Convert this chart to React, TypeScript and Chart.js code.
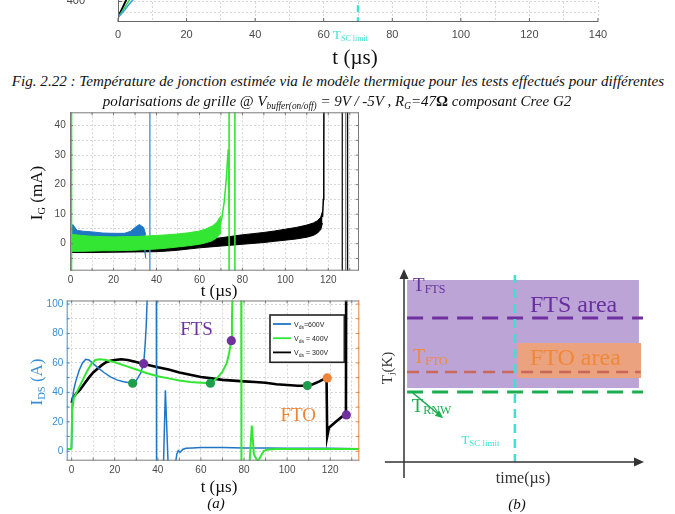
import React, { useEffect, useRef } from 'react';
import { Chart, registerables } from 'chart.js';

Chart.register(...registerables);

const SERIF = '"Liberation Serif", "Times New Roman", Times, serif';
const SANS = '"Liberation Sans", Arial, Helvetica, sans-serif';

const BLUE = '#1f77c4';
const LIME = '#33e633';
const BLACK = '#000000';
const PURPLE = '#7030a0';
const ORANGE = '#ef8436';
const MK_GREEN = '#1e9e4c';
const CYAN = '#3ee0d4';
const IDS_BLUE = '#3a8ed4';

// ---------- Fig. 2.22 (only its lower edge is visible) ----------
const stripTicksX = [0, 10, 20, 30, 40, 50, 60, 70, 80, 90, 100, 110, 120, 130, 140];
const stripTicksY = [350, 400, 450, 500, 550, 600, 650, 700, 750, 800, 850, 900, 950, 1000, 1050, 1100, 1150, 1200, 1250, 1300, 1350];
const stripTime = [0, 1, 2, 3, 6];
const stripTjBlack = [330, 362, 394, 426, 510];
const stripTjGreen = [330, 352, 375, 398, 465];
const stripTjBlue = [330, 346, 364, 383, 435];
const stripTscLimit = 70;

// ---------- (a) top : gate current I_G (mA) ----------
const igTicksX = [0, 10, 20, 30, 40, 50, 60, 70, 80, 90, 100, 110, 120, 130];
const igTicksY = [-5, 0, 5, 10, 15, 20, 25, 30, 35, 40];
const igBlueT = [0, 1, 3, 6, 10, 15, 20, 25, 28, 30, 32, 34, 35];
const igBlueHi = [4.5, 6.5, 4.5, 4.2, 4, 3.6, 3.5, 3.5, 4.2, 5.5, 6.5, 5.5, 3];
const igBlueLo = [0.5, 0.8, 0.8, 0.6, 0.5, 0.3, 0.2, 0.3, 0.5, 0.8, 1, 0, -5];
const igGreenT = [0, 5, 10, 15, 20, 25, 30, 35, 40, 45, 50, 55, 60, 63, 66, 68, 70];
const igGreenHi = [3.2, 2.8, 2.5, 2.4, 2.3, 2.4, 2.4, 2.6, 2.8, 3.0, 3.3, 3.7, 4.3, 5.0, 6.0, 7.2, 9.5];
const igGreenLo = [-2.6, -2.6, -2.5, -2.4, -2.4, -2.3, -2.2, -2.0, -1.8, -1.5, -1.1, -0.7, -0.2, 0.3, 1.0, 2.0, 3.5];
const igGreenSpikeT = [69.5, 70.5, 71.5, 72.5, 73.2, 73.4, 73.6, 73.8];
const igGreenSpikeY = [6, 9, 14, 22, 30, 32, 26, 10];
const igBlackT = [0, 10, 20, 30, 40, 45, 50, 55, 60, 65, 70, 75, 80, 85, 90, 95, 100, 105, 110, 113, 115, 116.5, 117.3];
const igBlackHi = [-0.6, -0.7, -0.6, -0.5, -0.3, 0, 0.4, 0.8, 1.2, 1.6, 2.0, 2.5, 3.0, 3.4, 3.8, 4.3, 4.9, 5.5, 6.3, 7.0, 7.8, 9.0, 11];
const igBlackLo = [-3.0, -3.0, -2.9, -2.8, -2.7, -2.5, -2.2, -1.8, -1.4, -1.1, -0.8, -0.5, -0.2, 0.1, 0.4, 0.8, 1.2, 1.6, 2.2, 2.8, 3.6, 4.8, 7];
const igBlackSpikeT = [117.3, 117.7, 117.9, 118];
const igBlackSpikeY = [9, 15, 30, 60];
const igBlueCuts = [36.9];
const igGreenCuts = [0.4, 73.8, 76.5];
const igBlackCuts = [126.5, 129.0];
const igGrayCuts = [128.1];

// ---------- (a) bottom : drain current I_DS (A) ----------
const idsTicksX = [0, 10, 20, 30, 40, 50, 60, 70, 80, 90, 100, 110, 120, 130];
const idsTicksY = [0, 10, 20, 30, 40, 50, 60, 70, 80, 90, 100];
const idsBlueT = [0, 0.3, 1, 2, 3.5, 5, 6.5, 8, 10, 12, 15, 18, 21, 24, 27, 28.3, 30, 32, 33.4, 34, 34.6, 35.2, 39.3, 39.4, 42.6, 43.5, 44.8, 48, 48.8, 49.5, 50.3, 51.5, 53, 56, 60, 70, 80, 90, 100, 110, 120, 133.5];
const idsBlueY = [1.8, 35, 42, 48, 55, 60, 62.5, 62, 59.5, 57, 53.5, 50.5, 48.5, 47.2, 46.5, 46.2, 48, 53, 59.5, 70, 85, 110, 110, -10, -10, 41.5, -10, -10, -2, 0.5, -0.8, 1.2, 2, 2.3, 2.5, 2.5, 2.3, 2.2, 2.1, 2, 2, 1.8];
const idsGreenT = [-2.3, -0.2, 0.3, 1, 3, 5, 7, 9, 11, 13, 16, 20, 25, 30, 35, 40, 45, 50, 55, 60, 64.4, 66, 68, 70, 72, 73, 74.1, 74.4, 74.7, 78.7, 78.8, 82.5, 83.6, 84.6, 86.3, 87.5, 89, 90.5, 95, 110, 133.5];
const idsGreenY = [1.5, 1.5, 28, 36, 42, 48, 54, 59, 62, 62.5, 62, 60.5, 58, 55.5, 53, 51, 49.5, 48, 47, 46.5, 46.2, 48, 50.5, 54, 60, 66, 75.1, 90, 110, 110, -10, -10, 17.5, -2, -7, -4, 0, 1, 1.5, 1.5, 1.5];
const idsBlackT = [0, 0.5, 2, 4, 6, 8, 10, 12, 14, 16, 18, 20, 23, 26, 29, 33, 36, 40, 45, 50, 55, 60, 65, 70, 75, 80, 85, 90, 95, 100, 105, 109.4, 112, 115, 118.3, 118.6, 119.4, 121, 123, 125.5, 127.3, 127.4];
const idsBlackY = [33, 36, 39, 42, 46, 50, 53.5, 56, 58.5, 60.5, 61.5, 62, 62.5, 62, 61, 59.5, 58.5, 57, 55.5, 53.5, 52, 50.5, 49.5, 48.5, 48, 47.5, 47, 46.5, 45.5, 45, 44.5, 44.6, 45.5, 47.5, 50, 10, 16, 18, 20.5, 23.5, 25, 110];
const mkGreenT = [28.3, 64.4, 109.4];
const mkGreenY = [46.2, 46.2, 44.6];
const mkPurpleT = [33.4, 74.1, 127.5];
const mkPurpleY = [59.5, 75.1, 24.7];
const mkOrangeT = [118.6];
const mkOrangeY = [49.8];
const legendNames = ['=600V', ' = 400V', ' = 300V'];
const legendColors = [BLUE, LIME, BLACK];

// ---------- (b) schematic : T_j versus time ----------
const bFtsAreaX = [1.3, 98.3];
const bFtsAreaY = [38.5, 94.8];
const bFtoAreaX = [47.7, 99.2];
const bFtoAreaY = [43.75, 62];
const bTfts = 75;
const bTfto = 46.9;
const bTrnw = 36.5;
const bTsc = 46.4;

// ---------- helpers ----------
const pts = (xs: number[], ys: number[]) => xs.map((x, i) => ({ x, y: ys[i] }));
const vertical = (x: number, lo: number, hi: number) => [{ x, y: lo }, { x, y: hi }];

function lineDs(data: any[], color: string, width: number, extra: any = {}) {
  return { data, borderColor: color, backgroundColor: color, borderWidth: width, pointRadius: 0, tension: 0, fill: false, ...extra };
}
function bandDs(xs: number[], hi: number[], lo: number[], color: string) {
  return [lineDs(pts(xs, hi), color, 1), lineDs(pts(xs, lo), color, 1, { fill: '-1' })];
}
function markerDs(xs: number[], ys: number[], color: string) {
  return { data: pts(xs, ys), showLine: false, pointRadius: 4.6, pointBackgroundColor: color, pointBorderColor: color, pointBorderWidth: 0, borderColor: color, backgroundColor: color };
}
const isMult = (v: number, m: number) => Math.abs(v / m - Math.round(v / m)) < 1e-6;

function axis(dir: string, min: number, max: number, ticks: number[], every: number, fixed: number, o: any) {
  return {
    type: 'linear',
    min,
    max,
    afterBuildTicks: (s: any) => {
      s.ticks = ticks.map((v) => ({ value: v }));
    },
    afterFit: (s: any) => {
      if (dir === 'x') s.height = fixed;
      else s.width = fixed;
      s.paddingTop = 0;
      s.paddingBottom = 0;
      s.paddingLeft = 0;
      s.paddingRight = 0;
    },
    ticks: {
      autoSkip: false,
      maxRotation: 0,
      minRotation: 0,
      padding: o.padding,
      color: o.color || '#4a4a4a',
      font: { family: SANS, size: o.size || 10 },
      callback: (v: number) => (isMult(v, every) ? String(v) : ''),
    },
    grid: { color: '#d6d6d6', lineWidth: 1, drawTicks: false },
    border: { display: false, dash: [2, 2] },
  };
}

function base(extra: any) {
  return {
    animation: false,
    responsive: false,
    maintainAspectRatio: false,
    events: [],
    ...extra,
    plugins: { legend: { display: false }, tooltip: { enabled: false }, ...(extra.plugins || {}) },
  };
}

const framePlugin = {
  id: 'frame',
  afterDatasetsDraw(chart: any, _a: any, o: any) {
    const { ctx, chartArea: a } = chart;
    const xs = chart.scales.x;
    const ys = chart.scales.y;
    ctx.save();
    ctx.lineWidth = 1;
    ctx.setLineDash([]);
    const seg = (c: string, x0: number, y0: number, x1: number, y1: number) => {
      if (!c) return;
      ctx.strokeStyle = c;
      ctx.beginPath();
      ctx.moveTo(x0, y0);
      ctx.lineTo(x1, y1);
      ctx.stroke();
    };
    const L = o.len;
    for (const v of o.xTicks) {
      const p = xs.getPixelForValue(v);
      seg(o.bottom, p, a.bottom, p, a.bottom - L);
      seg(o.top, p, a.top, p, a.top + L);
    }
    for (const v of o.yTicks) {
      const p = ys.getPixelForValue(v);
      seg(o.left, a.left, p, a.left + L, p);
      seg(o.right, a.right, p, a.right - L, p);
    }
    seg(o.top, a.left, a.top + 0.5, a.right, a.top + 0.5);
    seg(o.bottom, a.left, a.bottom - 0.5, a.right, a.bottom - 0.5);
    seg(o.left, a.left + 0.5, a.top, a.left + 0.5, a.bottom);
    seg(o.right, a.right - 0.5, a.top, a.right - 0.5, a.bottom);
    ctx.restore();
  },
};

type Part = { t: string; size: number; dy?: number };
function drawParts(ctx: any, parts: Part[], x: number, y: number, color: string, family = SERIF) {
  ctx.fillStyle = color;
  ctx.textAlign = 'left';
  ctx.textBaseline = 'alphabetic';
  let cx = x;
  for (const p of parts) {
    ctx.font = `${p.size}px ${family}`;
    ctx.fillText(p.t, cx, y + (p.dy || 0));
    cx += ctx.measureText(p.t).width;
  }
  return cx - x;
}
function measureParts(ctx: any, parts: Part[], family = SERIF) {
  let w = 0;
  for (const p of parts) {
    ctx.font = `${p.size}px ${family}`;
    w += ctx.measureText(p.t).width;
  }
  return w;
}

const legendPlugin = {
  id: 'vdsLegend',
  afterDatasetsDraw(chart: any) {
    const { ctx } = chart;
    const x0 = 270;
    const y0 = 23;
    const w = 74.3;
    const h = 47.3;
    ctx.save();
    ctx.fillStyle = '#ffffff';
    ctx.fillRect(x0, y0, w, h);
    ctx.strokeStyle = '#222';
    ctx.lineWidth = 1.6;
    ctx.strokeRect(x0, y0, w, h);
    legendNames.forEach((name, i) => {
      const y = y0 + 9 + i * 14.2;
      ctx.strokeStyle = legendColors[i];
      ctx.lineWidth = 1.8;
      ctx.beginPath();
      ctx.moveTo(x0 + 3, y);
      ctx.lineTo(x0 + 21, y);
      ctx.stroke();
      drawParts(ctx, [{ t: 'V', size: 7 }, { t: 'ds', size: 5, dy: 2 }, { t: name, size: 7 }], x0 + 24, y + 2.5, '#222', SANS);
    });
    ctx.restore();
  },
};

const schemePlugin = {
  id: 'scheme',
  afterDatasetsDraw(chart: any) {
    const { ctx } = chart;
    const X = (v: number) => chart.scales.x.getPixelForValue(v);
    const Y = (v: number) => chart.scales.y.getPixelForValue(v);
    ctx.save();
    ctx.setLineDash([]);
    // axes with arrows
    ctx.strokeStyle = '#333';
    ctx.fillStyle = '#333';
    ctx.lineWidth = 1.5;
    ctx.beginPath();
    ctx.moveTo(X(-8), Y(0));
    ctx.lineTo(X(97), Y(0));
    ctx.moveTo(X(0), Y(-8.3));
    ctx.lineTo(X(0), Y(97));
    ctx.stroke();
    ctx.beginPath();
    ctx.moveTo(X(100) + 1, Y(0));
    ctx.lineTo(X(100) - 9, Y(0) - 4.5);
    ctx.lineTo(X(100) - 9, Y(0) + 4.5);
    ctx.closePath();
    ctx.fill();
    ctx.beginPath();
    ctx.moveTo(X(0), Y(100) - 1);
    ctx.lineTo(X(0) - 4.5, Y(100) + 9);
    ctx.lineTo(X(0) + 4.5, Y(100) + 9);
    ctx.closePath();
    ctx.fill();
    // green arrow under T_RNW
    const ax0 = X(3.2), ay0 = Y(bTrnw), ax1 = X(16.4), ay1 = Y(22.8);
    const ang = Math.atan2(ay1 - ay0, ax1 - ax0);
    ctx.strokeStyle = '#1bae50';
    ctx.fillStyle = '#1bae50';
    ctx.lineWidth = 1.5;
    ctx.beginPath();
    ctx.moveTo(ax0, ay0);
    ctx.lineTo(ax1 - 5 * Math.cos(ang), ay1 - 5 * Math.sin(ang));
    ctx.stroke();
    ctx.beginPath();
    ctx.moveTo(ax1, ay1);
    ctx.lineTo(ax1 - 8 * Math.cos(ang) + 3.5 * Math.sin(ang), ay1 - 8 * Math.sin(ang) - 3.5 * Math.cos(ang));
    ctx.lineTo(ax1 - 8 * Math.cos(ang) - 3.5 * Math.sin(ang), ay1 - 8 * Math.sin(ang) + 3.5 * Math.cos(ang));
    ctx.closePath();
    ctx.fill();
    // texts
    drawParts(ctx, [{ t: 'T', size: 19 }, { t: 'FTS', size: 12, dy: 2.6 }], X(3.8), Y(89.2), '#6a2f9e');
    drawParts(ctx, [{ t: 'FTS area', size: 24 }], X(52.7), Y(78), '#6a2f9e');
    drawParts(ctx, [{ t: 'T', size: 20 }, { t: 'FTO', size: 12, dy: 1.7 }], X(3.8), Y(51.4), '#f08a3c');
    drawParts(ctx, [{ t: 'FTO area', size: 24 }], X(52.7), Y(50.5), '#f0883a');
    drawParts(ctx, [{ t: 'T', size: 19 }, { t: 'RNW', size: 12, dy: 2.6 }], X(3.2), Y(26.2), '#1bae50');
    drawParts(ctx, [{ t: 'T', size: 12.5 }, { t: 'SC limit', size: 9, dy: 2 }], X(24.1), Y(9.4), CYAN);
    const tp: Part[] = [{ t: 'time(µs)', size: 16 }];
    drawParts(ctx, tp, X(49.8) - measureParts(ctx, tp) / 2, Y(-10.9), '#333');
    const yp: Part[] = [{ t: 'T', size: 15 }, { t: 'j', size: 9, dy: 2 }, { t: '(K)', size: 15 }];
    ctx.translate(X(-7.1), Y(49));
    ctx.rotate(-Math.PI / 2);
    drawParts(ctx, yp, -measureParts(ctx, yp) / 2, 5, '#333');
    ctx.restore();
  },
};

// ---------- chart configs ----------
function stripConfig(): any {
  return {
    type: 'line',
    data: {
      datasets: [
        lineDs(vertical(stripTscLimit, 300, 1400), CYAN, 2.5, { borderDash: [7, 5] }),
        lineDs(pts(stripTime, stripTjBlue), '#3aa0d8', 1.5),
        lineDs(pts(stripTime, stripTjGreen), '#2fcf4f', 1.5),
        lineDs(pts(stripTime, stripTjBlack), BLACK, 2),
      ],
    },
    options: base({
      layout: { padding: { left: 0, right: 77, top: 10, bottom: 0 } },
      scales: {
        x: axis('x', 0, 140, stripTicksX, 20, 23, { size: 11, padding: 6 }),
        y: axis('y', 310, 1360, stripTicksY, 100, 118, { size: 11, padding: 33 }),
      },
      plugins: {
        frame: { left: '#666', bottom: '#666', top: '', right: '', xTicks: stripTicksX.filter((v) => isMult(v, 20)), yTicks: stripTicksY.filter((v) => isMult(v, 100)), len: 4 },
      },
    }),
    plugins: [framePlugin],
  };
}

function igConfig(): any {
  const cuts = (xs: number[], color: string, w: number) => xs.map((x) => lineDs(vertical(x, -20, 60), color, w));
  return {
    type: 'line',
    data: {
      datasets: [
        lineDs(pts(igGreenSpikeT, igGreenSpikeY), LIME, 1.5),
        ...cuts(igGreenCuts, LIME, 1.6),
        ...bandDs(igGreenT, igGreenHi, igGreenLo, LIME),
        ...cuts(igBlueCuts, '#4f95d6', 1.4),
        ...bandDs(igBlueT, igBlueHi, igBlueLo, BLUE),
        lineDs(pts(igBlackSpikeT, igBlackSpikeY), BLACK, 1.5),
        ...cuts(igGrayCuts, '#8a8a8a', 1.4),
        ...cuts(igBlackCuts, BLACK, 1.2),
        ...bandDs(igBlackT, igBlackHi, igBlackLo, BLACK),
      ],
    },
    options: base({
      layout: { padding: { left: 0, right: 13, top: 12.3, bottom: 0 } },
      scales: {
        x: axis('x', -0.3, 134.3, igTicksX, 20, 19.3, { size: 10, padding: 4 }),
        y: axis('y', -9.15, 44.5, igTicksY, 10, 70, { size: 10, padding: 4.3 }),
      },
      plugins: {
        frame: { left: '#7a7a7a', bottom: '#7a7a7a', top: '#7a7a7a', right: '#7a7a7a', xTicks: igTicksX, yTicks: igTicksY, len: 3 },
      },
    }),
    plugins: [framePlugin],
  };
}

function idsConfig(): any {
  return {
    type: 'line',
    data: {
      datasets: [
        markerDs(mkPurpleT, mkPurpleY, PURPLE),
        markerDs(mkOrangeT, mkOrangeY, ORANGE),
        markerDs(mkGreenT, mkGreenY, MK_GREEN),
        lineDs(pts(idsGreenT, idsGreenY), LIME, 2),
        lineDs(pts(idsBlueT, idsBlueY), BLUE, 1.5),
        lineDs(pts(idsBlackT, idsBlackY), BLACK, 2.6),
      ],
    },
    options: base({
      layout: { padding: { left: 0, right: 12.7, top: 8.5, bottom: 0 } },
      scales: {
        x: axis('x', -2.3, 133.5, idsTicksX, 20, 16.3, { size: 10, padding: 4 }),
        y: axis('y', -6.4, 102.4, idsTicksY, 20, 66.7, { size: 10, padding: 3.4, color: IDS_BLUE }),
      },
      plugins: {
        frame: { left: IDS_BLUE, bottom: '#7a7a7a', top: '#7a7a7a', right: '#e8803a', xTicks: idsTicksX, yTicks: idsTicksY, len: 3 },
      },
    }),
    plugins: [framePlugin, legendPlugin],
  };
}

function schemeConfig(): any {
  const hline = (y: number, x0: number, x1: number) => [{ x: x0, y }, { x: x1, y }];
  return {
    type: 'line',
    data: {
      datasets: [
        lineDs(vertical(bTsc, -0.5, 97.4), CYAN, 2.5, { borderDash: [9, 6] }),
        lineDs(hline(bTrnw, 1.3, 100), '#1bae50', 3, { borderDash: [16, 9] }),
        lineDs(hline(bTfto, 1.3, 99), '#c9675a', 2.5, { borderDash: [12, 7] }),
        lineDs(hline(bTfts, 1.3, 100), PURPLE, 3, { borderDash: [16, 9] }),
        lineDs(hline(bFtoAreaY[1], bFtoAreaX[0], bFtoAreaX[1]), '#eba27e', 0, { fill: { value: bFtoAreaY[0] }, backgroundColor: '#eba27e' }),
        lineDs(hline(bFtsAreaY[1], bFtsAreaX[0], bFtsAreaX[1]), '#bca4d7', 0, { fill: { value: bFtsAreaY[0] }, backgroundColor: '#bca4d7' }),
      ],
    },
    options: base({
      layout: { padding: { left: 29, right: 32, top: 15, bottom: 52 } },
      scales: {
        x: { type: 'linear', min: 0, max: 100, display: false },
        y: { type: 'linear', min: 0, max: 100, display: false },
      },
    }),
    plugins: [schemePlugin],
  };
}

// ---------- HTML text helpers ----------
function Sub({ children, size = '0.62em', drop = '0.28em' }: any) {
  return <span style={{ fontSize: size, position: 'relative', top: drop }}>{children}</span>;
}
function Lbl({ x, y, size, color = '#111', italic = false, rotate = 0, children }: any) {
  return (
    <div
      style={{
        position: 'absolute',
        left: x,
        top: y,
        transform: `translate(-50%, -50%) rotate(${rotate}deg)`,
        fontFamily: SERIF,
        fontSize: size,
        color,
        fontStyle: italic ? 'italic' : 'normal',
        whiteSpace: 'nowrap',
        lineHeight: 1,
      }}
    >
      {children}
    </div>
  );
}

export default function App() {
  const r1 = useRef<HTMLCanvasElement>(null);
  const r2 = useRef<HTMLCanvasElement>(null);
  const r3 = useRef<HTMLCanvasElement>(null);
  const r4 = useRef<HTMLCanvasElement>(null);

  useEffect(() => {
    const charts = [
      new Chart(r1.current as HTMLCanvasElement, stripConfig()),
      new Chart(r2.current as HTMLCanvasElement, igConfig()),
      new Chart(r3.current as HTMLCanvasElement, idsConfig()),
      new Chart(r4.current as HTMLCanvasElement, schemeConfig()),
    ];
    return () => charts.forEach((c) => c.destroy());
  }, []);

  const cv = (left: number, top: number, w: number, h: number): any => ({ position: 'absolute', left, top, width: w, height: h, display: 'block' });

  return (
    <div style={{ position: 'absolute', left: 0, top: 0, width: 675, height: 514, overflow: 'hidden', background: '#fff' }}>
      <canvas ref={r1} width={675} height={273} style={cv(0, -228, 675, 273)} />
      <canvas ref={r2} width={372} height={190} style={cv(0, 100, 372, 190)} />
      <canvas ref={r3} width={372} height={185} style={cv(0, 292, 372, 185)} />
      <canvas ref={r4} width={300} height={259} style={cv(375, 255, 300, 259)} />

      {/* Fig. 2.22 remnants */}
      <div style={{ position: 'absolute', left: 333, top: 28, fontFamily: SERIF, fontSize: 13, color: CYAN, lineHeight: 1, whiteSpace: 'nowrap' }}>
        T<Sub>SC limit</Sub>
      </div>
      <Lbl x={355} y={57} size={21}>t (µs)</Lbl>
      <Lbl x={338} y={82} size={15.1} italic>
        Fig. 2.22 : Température de jonction estimée via le modèle thermique pour les tests effectués pour différentes
      </Lbl>
      <Lbl x={337} y={101} size={15} italic>
        polarisations de grille @ V<Sub>buffer(on/off)</Sub> = 9V / -5V , R<Sub>G</Sub>=47<span style={{ fontStyle: 'normal', fontWeight: 'bold' }}>Ω</span> composant Cree G2
      </Lbl>

      {/* panel (a) */}
      <Lbl x={36} y={193} size={17} rotate={-90}>
        I<Sub>G</Sub> (mA)
      </Lbl>
      <Lbl x={219} y={290} size={17}>t (µs)</Lbl>
      <Lbl x={36} y={382} size={17} rotate={-90} color={IDS_BLUE}>
        I<Sub>DS</Sub> (A)
      </Lbl>
      <Lbl x={219} y={486} size={17}>t (µs)</Lbl>
      <Lbl x={216} y={503} size={15} italic>(a)</Lbl>
      <Lbl x={196.5} y={327.5} size={19} color={PURPLE}>FTS</Lbl>
      <Lbl x={298.3} y={413.7} size={19} color={ORANGE}>FTO</Lbl>

      {/* panel (b) */}
      <Lbl x={517} y={504} size={15} italic>(b)</Lbl>
    </div>
  );
}
